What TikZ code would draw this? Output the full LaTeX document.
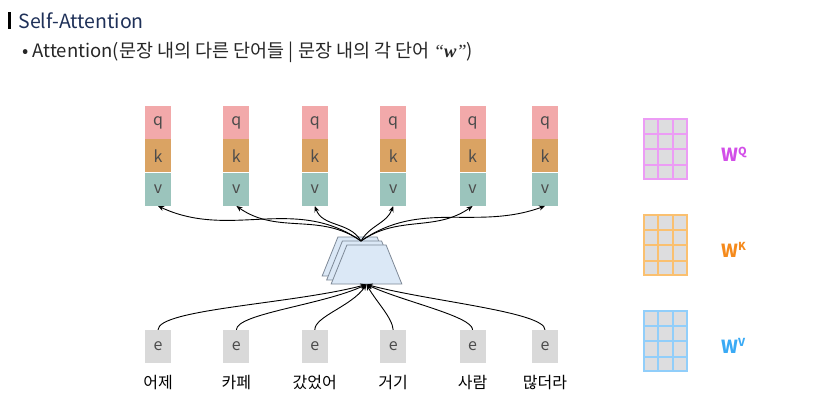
\documentclass[tikz,border=0pt]{standalone}
\usepackage{fontspec}
\setmainfont{Noto Sans CJK KR}
\newfontfamily\seriffont{Liberation Serif}
\usetikzlibrary{calc,arrows.meta,positioning,shapes.geometric}

\definecolor{navy}{RGB}{30,48,88}
\definecolor{qfill}{RGB}{242,169,170}
\definecolor{kfill}{RGB}{218,163,99}
\definecolor{vfill}{RGB}{155,196,188}
\definecolor{efill}{RGB}{217,217,217}
\definecolor{layerfill}{RGB}{219,232,246}
\definecolor{layerdraw}{RGB}{125,136,150}
\definecolor{gridfill}{RGB}{221,221,223}
\definecolor{wqdraw}{RGB}{236,156,245}
\definecolor{wqtext}{RGB}{210,78,232}
\definecolor{wkdraw}{RGB}{250,192,112}
\definecolor{wktext}{RGB}{245,138,28}
\definecolor{wvdraw}{RGB}{145,206,250}
\definecolor{wvtext}{RGB}{58,170,245}

\begin{document}
\begin{tikzpicture}[x=1pt,y=-1pt]

\tikzset{cell/.style={inner sep=0pt,minimum width=26pt,minimum height=33pt,shape=rectangle,text=black!70,font=\fontsize{16}{16}\selectfont},
query/.style={cell,fill=qfill},
key/.style={cell,fill=kfill},
value/.style={cell,fill=vfill},
embed/.style={cell,fill=efill},
word/.style={inner sep=0pt,font=\fontsize{16}{16}\selectfont},
layer/.style={shape=trapezium,trapezium left angle=68,trapezium right angle=68,minimum width=71pt,minimum height=33pt,inner sep=1pt,fill=layerfill,draw=layerdraw,line width=0.8pt},
weights/.style={inner sep=0pt,minimum width=43pt,minimum height=60pt,shape=rectangle,fill=gridfill,line width=2pt},
wlabel/.style={inner sep=0pt,font=\fontsize{18}{18}\selectfont\bfseries},
transitions/.style={->,>={Stealth[length=6pt,width=5pt]},line width=0.9pt},
inputs/.style={->,>={Stealth[length=6pt,width=5pt]},line width=0.9pt}}

\useasboundingbox (0,0) rectangle (822,418);

% Heading
\node (bar) [fill=black,inner sep=0pt,minimum width=3pt,minimum height=17pt] at (9.5,20.5) {};
\node (title) [right=7pt of bar,inner sep=0pt,text=navy,font=\fontsize{19.5}{19.5}\selectfont] {Self-Attention};
\node (bullet) [anchor=west,inner sep=0pt,text=black!85,font=\fontsize{18.5}{18.5}\selectfont] at (22,52)
  {• Attention(문장 내의 다른 단어들 | 문장 내의 각 단어 {\seriffont\itshape “\bfseries w\mdseries”})};

% Query, key and value cells
\node (q1) [query] at (158,122.5) {q};
\node (q2) [right=52pt of q1,query] {q};
\node (q3) [right=52pt of q2,query] {q};
\node (q4) [right=52pt of q3,query] {q};
\node (q5) [right=53pt of q4,query] {q};
\node (q6) [right=46pt of q5,query] {q};

\node (k1) [below=0pt of q1,key] {k};
\node (k2) [below=0pt of q2,key] {k};
\node (k3) [below=0pt of q3,key] {k};
\node (k4) [below=0pt of q4,key] {k};
\node (k5) [below=0pt of q5,key] {k};
\node (k6) [below=0pt of q6,key] {k};

\node (v1) [below=0pt of k1,value] {v};
\node (v2) [below=0pt of k2,value] {v};
\node (v3) [below=0pt of k3,value] {v};
\node (v4) [below=0pt of k4,value] {v};
\node (v5) [below=0pt of k5,value] {v};
\node (v6) [below=0pt of k6,value] {v};

% Embeddings and words
\node (e1) [embed] at (158,346.5) {e};
\node (e2) [right=52pt of e1,embed] {e};
\node (e3) [right=52pt of e2,embed] {e};
\node (e4) [right=52pt of e3,embed] {e};
\node (e5) [right=53pt of e4,embed] {e};
\node (e6) [right=46pt of e5,embed] {e};

\node (w1) [below=12pt of e1,word] {어제};
\node (w2) [below=12pt of e2,word] {카페};
\node (w3) [below=12pt of e3,word] {갔었어};
\node (w4) [below=12pt of e4,word] {거기};
\node (w5) [below=12pt of e5,word] {사람};
\node (w6) [below=12pt of e6,word] {많더라};

% Stacked attention layers
\node (att3) [layer] at (357.5,256.5) {};
\node (att2) [layer] at ($(att3)+(4.5,4)$) {};
\node (att1) [layer] at ($(att2)+(4.5,4)$) {};
\coordinate (fan) at (361,241);

% Arrows from the layers to the values
\path (fan) edge [transitions,out=145,in=-25] (v1.south);
\path (fan) edge [transitions,out=145,in=-35] (v2.south);
\path (fan) edge [transitions,out=120,in=-70] (v3.south);
\path (fan) edge [transitions,out=60,in=-110] (v4.south);
\path (fan) edge [transitions,out=35,in=-145] (v5.south);
\path (fan) edge [transitions,out=35,in=-160] (v6.south);

% Arrows from the embeddings to the layers
\path (e1.north) edge [inputs,out=90,in=-165,out looseness=0.25,in looseness=0.9] (att1.south);
\path (e2.north) edge [inputs,out=90,in=-155,out looseness=0.3,in looseness=0.9] (att1.south);
\path (e3.north) edge [inputs,out=90,in=-125,out looseness=0.5] (att1.south);
\path (e4.north) edge [inputs,out=95,in=-60,out looseness=0.6] (att1.south);
\path (e5.north) edge [inputs,out=90,in=-25,out looseness=0.3,in looseness=0.9] (att1.south);
\path (e6.north) edge [inputs,out=90,in=-15,out looseness=0.25,in looseness=0.9] (att1.south);

% Weight matrices
\node (wq) [weights,draw=wqdraw] at (665.5,149) {};
\node (wk) [below=34pt of wq,weights,draw=wkdraw] {};
\node (wv) [below=34pt of wk,weights,draw=wvdraw] {};
\foreach \m/\c in {wq/wqdraw,wk/wkdraw,wv/wvdraw}{
  \foreach \f in {0.3333,0.6667}
    \draw [\c,line width=2pt] ($(\m.north west)!\f!(\m.north east)$) -- ($(\m.south west)!\f!(\m.south east)$);
  \foreach \f in {0.25,0.5,0.75}
    \draw [\c,line width=2pt] ($(\m.north west)!\f!(\m.south west)$) -- ($(\m.north east)!\f!(\m.south east)$);
}

\node (lq) [right=33pt of wq,yshift=-5pt,wlabel,text=wqtext] {W\raisebox{0.35em}{\fontsize{11}{11}\selectfont Q}};
\node (lk) [right=33pt of wk,yshift=-5pt,wlabel,text=wktext] {W\raisebox{0.35em}{\fontsize{11}{11}\selectfont K}};
\node (lv) [right=33pt of wv,yshift=-5pt,wlabel,text=wvtext] {W\raisebox{0.35em}{\fontsize{11}{11}\selectfont V}};

\end{tikzpicture}
\end{document}
